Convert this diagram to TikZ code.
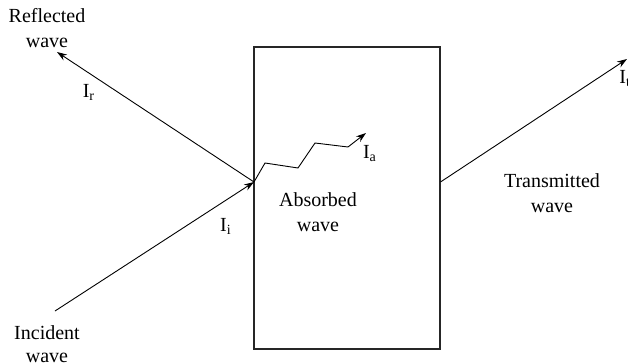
\documentclass[tikz,border=0pt]{standalone}
\usepackage{fontspec}
\setmainfont{Liberation Serif}
\usetikzlibrary{arrows.meta}

\begin{document}
\begin{tikzpicture}[x=0.5pt, y=-0.5pt,
  lbl/.style={align=center, font=\fontsize{10}{12.5}\selectfont, inner sep=1pt},
  sub/.style={font=\fontsize{10}{12}\selectfont, inner sep=1pt},
  slab/.style={draw=black!85, line width=0.7pt, minimum width=93pt,
               minimum height=151pt, inner sep=0pt, outer sep=0pt},
  ray/.style={line width=0.45pt},
  arr/.style={ray, -{Stealth[length=5pt, width=3.4pt]}}]
\useasboundingbox (0,0) rectangle (628,364);
% slab and points where the rays meet it
\node[slab] (slab) at (347,198) {};
\coordinate (hit) at (254,182);
\coordinate (exit) at (440.5,182);
\coordinate (src) at (55,311);
\coordinate (refl) at (57,52);
\coordinate (trans) at (627,59);
\coordinate (abs) at (366,133);
% rays
\draw[arr] (src) -- (hit);
\draw[arr] (hit) -- (refl);
\draw[arr] (exit) -- (trans);
\draw[arr] (hit) -- (265,163) -- (298,168) -- (315,143) -- (348,147) -- (abs);
% labels
\node[lbl] (reflw) at (47,28) {Reflected\\wave};
\node[lbl, font=\fontsize{10}{11.5}\selectfont] (incw) at (47,344) {Incident\\wave};
\node[lbl] (absw) at (318,212) {Absorbed\\wave};
\node[lbl] (trw) at (552,193) {Transmitted\\wave};
\node[sub] (ir) at (89,92) {I\textsubscript{r}};
\node[sub] (ii) at (226,226) {I\textsubscript{i}};
\node[sub] (ia) at (370,154) {I\textsubscript{a}};
\node[sub, anchor=west] (it) at (617,79) {I\textsubscript{t}};
\end{tikzpicture}
\end{document}
